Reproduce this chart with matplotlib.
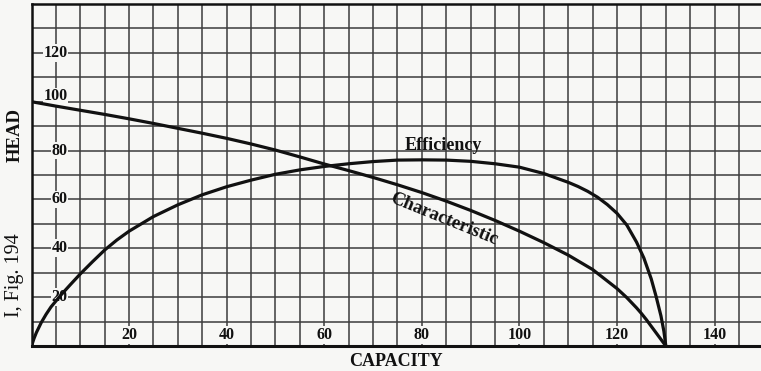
import numpy as np
import matplotlib
matplotlib.use("Agg")
import matplotlib.pyplot as plt

# Pump test curves: head characteristic and efficiency versus capacity
capacity_char = [0, 5, 10, 15, 20, 25, 30, 35, 40, 45, 50, 55, 60, 65, 70, 75,
                 80, 85, 90, 95, 100, 105, 110, 115, 120, 122, 124, 125, 126, 127,
                 128, 129, 130]
head_char = [100, 98.2, 96.5, 94.8, 93.0, 91.1, 89.1, 87.1, 85.0, 82.7, 80.2, 77.4,
             74.5, 71.8, 69.0, 66.0, 62.8, 59.3, 55.5, 51.4, 47.0, 42.3, 37.2, 31.3,
             23.5, 19.8, 15.6, 13.3, 10.8, 8.1, 5.4, 2.7, 0]

capacity_eff = [0, 0.5, 1, 2, 3, 4, 6, 8, 10, 12.5, 15, 17.5, 20, 25, 30, 35, 40,
                45, 50, 55, 60, 65, 70, 75, 80, 85, 90, 95, 100, 105, 110, 112, 114,
                116, 118, 120, 122, 124, 125.5, 127, 128, 129, 129.6, 130]
efficiency = [0, 3.0, 5.5, 9.6, 13.0, 16.0, 20.8, 25.2, 29.5, 34.5, 39.3, 43.4,
              47.0, 53.0, 57.8, 61.9, 65.2, 67.9, 70.3, 72.1, 73.5, 74.6, 75.5, 76.1,
              76.2, 76.1, 75.6, 74.6, 73.2, 70.6, 67.0, 65.3, 63.3, 60.9, 57.9, 54.3,
              49.5, 42.5, 36.0, 27.5, 20.3, 12.3, 6.0, 0]

x_tick_vals = [20, 40, 60, 80, 100, 120, 140]
y_tick_vals = [20, 40, 60, 80, 100, 120]

paper = "#f7f7f5"
ink = "#111111"
grid_ink = "#3c3c3c"
serif = ["Liberation Serif", "DejaVu Serif"]

W, H = 761, 371
fig = plt.figure(figsize=(W / 100, H / 100), dpi=100, facecolor=paper)
left_px, right_px, bottom_px, top_px = 31.5, 761, 346, 4
ax = fig.add_axes([left_px / W, (H - bottom_px) / H,
                   (right_px - left_px) / W, (bottom_px - top_px) / H])
ax.set_facecolor(paper)
ax.set_xlim(0, 149.5)
ax.set_ylim(0, 140)

# Squared grid: every 5 units of capacity, every 10 units of head
ax.set_xticks(np.arange(5, 150, 5))
ax.set_yticks(np.arange(10, 140, 10))
ax.tick_params(length=0, labelbottom=False, labelleft=False)
ax.grid(True, color=grid_ink, lw=1.1, zorder=1)
ax.set_axisbelow(True)

for side in ("left", "top", "bottom"):
    ax.spines[side].set_color(ink)
    ax.spines[side].set_linewidth(1.8)
ax.spines["bottom"].set_linewidth(2.2)
ax.spines["right"].set_visible(False)

# Curves
ax.plot(capacity_char, head_char, color=ink, lw=2.3, zorder=3,
        solid_capstyle="round", solid_joinstyle="round")
ax.plot(capacity_eff, efficiency, color=ink, lw=2.3, zorder=3,
        solid_capstyle="round", solid_joinstyle="round")

# Scale numbers printed inside the grid
box = dict(facecolor=paper, edgecolor="none", pad=0.6)
for v in x_tick_vals:
    ax.text(v, 4.6, str(v), ha="center", va="center", fontsize=11.5,
            fontweight="bold", family=serif, color=ink, bbox=box, zorder=2)
for v in y_tick_vals:
    yy = v + 2.2 if v == 100 else v
    ax.text(7.4, yy, str(v), ha="right", va="center", fontsize=11.5,
            fontweight="bold", family=serif, color=ink, bbox=box, zorder=2)

# Curve names
ax.text(84.5, 82.0, "Efficiency", ha="center", va="center", fontsize=13,
        fontweight="bold", family=serif, color=ink, zorder=4)
ax.text(84.5, 52.0, "Characteristic", ha="center", va="center", fontsize=13.5,
        fontweight="bold", family=serif, color=ink, rotation=-22,
        rotation_mode="anchor", zorder=4)

# Axis titles
fig.text(396 / W, (H - 362) / H, "CAPACITY", ha="center", va="center",
         fontsize=13, fontweight="bold", family=serif, color=ink)
fig.text(15 / W, (H - 135) / H, "HEAD", ha="center", va="center", rotation=90,
         fontsize=13.5, fontweight="bold", family=serif, color=ink)
fig.text(15 / W, (H - 275) / H, "I, Fig. 194", ha="center", va="center",
         rotation=90, fontsize=14.5, family=serif, color=ink)

fig.savefig("out.png", dpi=100, facecolor=paper)
